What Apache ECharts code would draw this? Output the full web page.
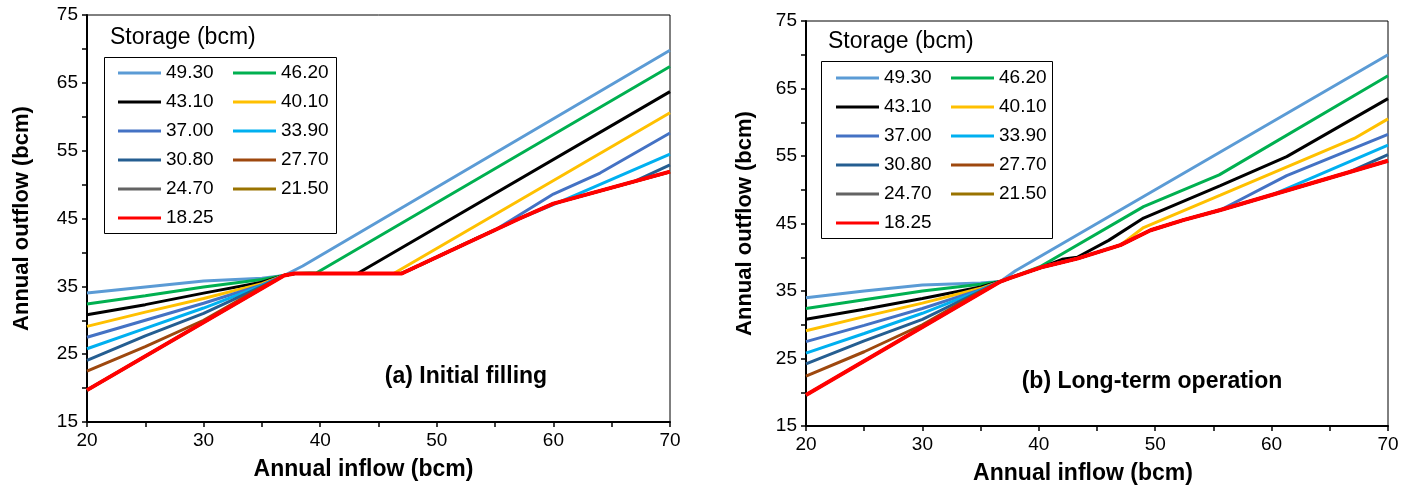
<!DOCTYPE html>
<html>
<head>
<meta charset="utf-8">
<script src="https://cdn.jsdelivr.net/npm/echarts@6/dist/echarts.min.js"></script>
<style>
  html, body { margin: 0; padding: 0; background: #fff; }
  #chart { width: 1417px; height: 497px; }
</style>
</head>
<body>
<div id="chart"></div>
<script>
// storage levels (legend), colours follow the Excel palette
const storageNames = ["49.30", "46.20", "43.10", "40.10", "37.00", "33.90", "30.80", "27.70", "24.70", "21.50", "18.25"];
const storageColors = ["#5B9BD5", "#00B050", "#000000", "#FFC000", "#4472C4", "#00B0F0", "#255E91", "#9E480E", "#636363", "#997300", "#FF0000"];

const xTicks = [20, 30, 40, 50, 60, 70];
const yTicks = [15, 25, 35, 45, 55, 65, 75];

// (a) initial filling : [annual inflow, annual outflow] (bcm)
const fill4930 = [[20, 34.0], [25, 34.9], [30, 35.8], [35, 36.2], [36.9, 36.6], [38.5, 38.0], [70, 69.8]];
const fill4620 = [[20, 32.4], [25, 33.6], [30, 34.9], [35, 36.0], [36.9, 36.6], [37.8, 36.9], [39.7, 37.0], [70, 67.4]];
const fill4310 = [[20, 30.8], [25, 32.3], [30, 34.0], [35, 35.6], [36.9, 36.6], [37.8, 36.9], [43.2, 36.9], [70, 63.7]];
const fill4010 = [[20, 29.1], [25, 31.2], [30, 33.2], [35, 35.4], [36.9, 36.6], [37.8, 36.9], [46.3, 36.9], [70, 60.6]];
const fill3700 = [[20, 27.5], [25, 30.0], [30, 32.5], [35, 35.2], [36.9, 36.6], [37.8, 36.9], [47, 36.9], [48.5, 38.1], [53.1, 41.8], [55, 43.3], [60, 48.6], [64, 51.7], [70, 57.6]];
const fill3390 = [[20, 25.8], [25, 28.8], [30, 31.8], [35, 35.1], [36.9, 36.6], [37.8, 36.9], [47, 36.9], [48.5, 38.1], [53.1, 41.8], [57.1, 45.0], [60.5, 47.4], [70, 54.5]];
const fill3080 = [[20, 24.1], [25, 27.7], [30, 31.0], [35, 35.0], [36.9, 36.6], [37.8, 36.9], [47, 36.9], [48.5, 38.1], [53.1, 41.8], [57.1, 45.0], [60, 47.2], [67, 50.5], [70, 52.9]];
const fill2770 = [[20, 22.5], [25, 26.1], [30, 30.0], [35, 34.9], [36.9, 36.6], [37.8, 36.9], [47, 36.9], [48.5, 38.1], [53.1, 41.8], [57.1, 45.0], [60, 47.2], [70, 51.9]];
const fill2470 = [[20, 19.7], [36.9, 36.6], [37.8, 36.9], [47, 36.9], [48.5, 38.1], [53.1, 41.8], [57.1, 45.0], [60, 47.2], [70, 51.9]];
const fill2150 = [[20, 19.7], [36.9, 36.6], [37.8, 36.9], [47, 36.9], [48.5, 38.1], [53.1, 41.8], [57.1, 45.0], [60, 47.2], [70, 51.9]];
const fill1825 = [[20, 19.7], [36.9, 36.6], [37.8, 36.9], [47, 36.9], [48.5, 38.1], [53.1, 41.8], [57.1, 45.0], [60, 47.2], [70, 51.9]];

// (b) long-term operation
const oper4930 = [[20, 34.0], [25, 35.0], [30, 35.9], [35, 36.2], [36.7, 36.4], [38, 38.0], [70, 70.0]];
const oper4620 = [[20, 32.4], [25, 33.7], [30, 35.0], [35, 36.0], [36.7, 36.4], [37.5, 36.9], [40.1, 38.6], [49, 47.5], [55.5, 52.2], [70, 66.9]];
const oper4310 = [[20, 30.8], [25, 32.3], [30, 33.9], [35, 35.6], [36.7, 36.4], [37.5, 36.9], [40.4, 38.6], [42, 39.7], [43.3, 40.0], [46, 42.5], [49, 45.8], [55.6, 50.6], [61.3, 54.9], [70, 63.5]];
const oper4010 = [[20, 29.1], [25, 31.2], [30, 33.2], [35, 35.4], [36.7, 36.4], [37.5, 36.9], [40.4, 38.6], [43.3, 39.8], [47, 41.8], [49, 44.4], [55.6, 49.2], [67.1, 57.6], [70, 60.5]];
const oper3700 = [[20, 27.5], [25, 29.9], [30, 32.4], [35, 35.2], [36.7, 36.4], [37.5, 36.9], [40.4, 38.6], [43.3, 39.8], [47, 41.8], [49.6, 44.0], [52.4, 45.5], [55.6, 47.0], [61.3, 52.1], [70, 58.2]];
const oper3390 = [[20, 25.8], [25, 28.7], [30, 31.7], [35, 35.1], [36.7, 36.4], [37.5, 36.9], [40.4, 38.6], [43.3, 39.8], [47, 41.8], [49.6, 44.0], [52.4, 45.5], [55.6, 47.0], [60, 49.2], [70, 56.6]];
const oper3080 = [[20, 24.2], [25, 27.6], [30, 30.8], [35, 35.0], [36.7, 36.4], [37.5, 36.9], [40.4, 38.6], [43.3, 39.8], [47, 41.8], [49.6, 44.0], [52.4, 45.5], [55.6, 47.0], [66.5, 52.5], [70, 55.2]];
const oper2770 = [[20, 22.4], [25, 26.0], [30, 30.0], [35, 34.9], [36.7, 36.4], [37.5, 36.9], [40.4, 38.6], [43.3, 39.8], [47, 41.8], [49.6, 44.0], [52.4, 45.5], [55.6, 47.0], [70, 54.3]];
const oper2470 = [[20, 19.6], [36.7, 36.4], [37.5, 36.9], [40.4, 38.6], [43.3, 39.8], [47, 41.8], [49.6, 44.0], [52.4, 45.5], [55.6, 47.0], [70, 54.3]];
const oper2150 = [[20, 19.6], [36.7, 36.4], [37.5, 36.9], [40.4, 38.6], [43.3, 39.8], [47, 41.8], [49.6, 44.0], [52.4, 45.5], [55.6, 47.0], [70, 54.3]];
const oper1825 = [[20, 19.6], [36.7, 36.4], [37.5, 36.9], [40.4, 38.6], [43.3, 39.8], [47, 41.8], [49.6, 44.0], [52.4, 45.5], [55.6, 47.0], [70, 54.3]];

const fillSeries = [fill4930, fill4620, fill4310, fill4010, fill3700, fill3390, fill3080, fill2770, fill2470, fill2150, fill1825];
const operSeries = [oper4930, oper4620, oper4310, oper4010, oper3700, oper3390, oper3080, oper2770, oper2470, oper2150, oper1825];

const FONT = "'Liberation Sans', Arial, sans-serif";

const chart = echarts.init(document.getElementById("chart"));

function makeXAxis(idx, shift) {
  return {
    type: "value", gridIndex: idx, min: 20, max: 70, interval: 5,
    name: "Annual inflow (bcm)", nameLocation: "middle", nameGap: 36,
    nameTextStyle: { fontFamily: FONT, fontSize: 23, fontWeight: "bold", color: "#000", padding: [0, shift, 0, 0] },
    axisLine: { show: true, lineStyle: { color: "#000", width: 2 } },
    axisTick: { show: true, length: 5, lineStyle: { color: "#000", width: 1.5 } },
    axisLabel: {
      fontFamily: FONT, fontSize: 19, color: "#000", margin: 9,
      formatter: (v) => (xTicks.includes(v) ? String(v) : "")
    },
    splitLine: { show: false }
  };
}

function makeYAxis(idx, gap) {
  return {
    type: "value", gridIndex: idx, min: 15, max: 75, interval: 5,
    name: "Annual outflow (bcm)", nameLocation: "middle", nameGap: gap,
    nameTextStyle: { fontFamily: FONT, fontSize: 22, fontWeight: "bold", color: "#000" },
    axisLine: { show: true, lineStyle: { color: "#000", width: 2 } },
    axisTick: { show: true, length: 5, lineStyle: { color: "#000", width: 1.5 } },
    axisLabel: {
      fontFamily: FONT, fontSize: 19, color: "#000", margin: 9,
      formatter: (v) => (yTicks.includes(v) ? String(v) : "")
    },
    splitLine: { show: false }
  };
}

function makeLegend(left, top) {
  return {
    data: storageNames,
    left: left, top: top, width: 230,
    orient: "horizontal",
    padding: 0,
    itemGap: 9,
    itemWidth: 43, itemHeight: 3,
    icon: "rect",
    selectedMode: false,
    textStyle: { fontFamily: FONT, fontSize: 19, color: "#000", width: 58, lineHeight: 20 }
  };
}

const series = [];
fillSeries.forEach((d, i) => {
  series.push({
    name: storageNames[i], type: "line", xAxisIndex: 0, yAxisIndex: 0,
    data: d, symbol: "none", color: storageColors[i],
    lineStyle: { width: i === 10 ? 4 : 3, color: storageColors[i] }
  });
});
operSeries.forEach((d, i) => {
  series.push({
    name: storageNames[i], type: "line", xAxisIndex: 1, yAxisIndex: 1,
    data: d, symbol: "none", color: storageColors[i],
    lineStyle: { width: i === 10 ? 4 : 3, color: storageColors[i] }
  });
});

const option = {
  animation: false,
  backgroundColor: "#fff",
  grid: [
    { left: 87, top: 15, width: 583, height: 407, show: true, borderColor: "#000", borderWidth: 1, backgroundColor: "transparent" },
    { left: 806, top: 21, width: 582, height: 405, show: true, borderColor: "#000", borderWidth: 1, backgroundColor: "transparent" }
  ],
  xAxis: [makeXAxis(0, 30), makeXAxis(1, 28)],
  yAxis: [makeYAxis(0, 54), makeYAxis(1, 50)],
  legend: [makeLegend(118, 63), makeLegend(836, 68)],
  graphic: [
    { type: "rect", shape: { x: 104.5, y: 57.5, width: 232, height: 176 }, style: { fill: "none", stroke: "#000", lineWidth: 1 } },
    { type: "rect", shape: { x: 821.5, y: 61.5, width: 231, height: 177 }, style: { fill: "none", stroke: "#000", lineWidth: 1 } },
    { type: "text", x: 110, y: 38, style: { text: "Storage (bcm)", font: "23px " + FONT, fill: "#000", align: "left", verticalAlign: "middle" } },
    { type: "text", x: 828, y: 42, style: { text: "Storage (bcm)", font: "23px " + FONT, fill: "#000", align: "left", verticalAlign: "middle" } },
    { type: "text", x: 466, y: 377, style: { text: "(a) Initial filling", font: "bold 23px " + FONT, fill: "#000", align: "center", verticalAlign: "middle" } },
    { type: "text", x: 1152, y: 382, style: { text: "(b) Long-term operation", font: "bold 23px " + FONT, fill: "#000", align: "center", verticalAlign: "middle" } }
  ],
  series: series
};

chart.setOption(option);
</script>
</body>
</html>
